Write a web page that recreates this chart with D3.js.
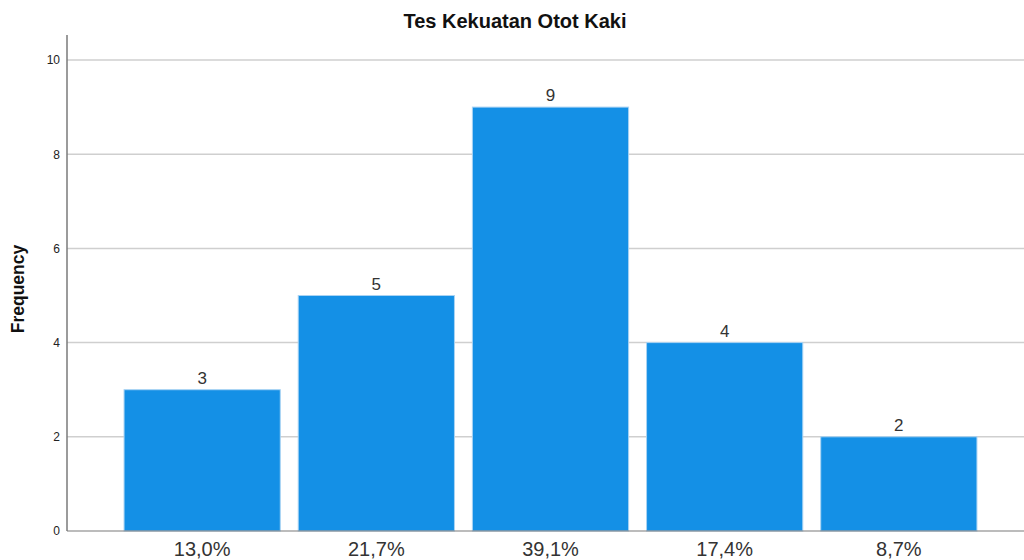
<!DOCTYPE html>
<meta charset="utf-8">
<style>
    body { margin: 0; background: #fff; font-family: Arial, "Liberation Sans", sans-serif; }
    .grid line { stroke: #cfcfcf; stroke-width: 1.5; }
    .axis path, .axis line { stroke: #7a7a7a; }
</style>
<body>
<script src="https://cdnjs.cloudflare.com/ajax/libs/d3/7.8.5/d3.min.js"></script>
<script>
    var categories = ["13,0%", "21,7%", "39,1%", "17,4%", "8,7%"];
    var frequencies = [3, 5, 9, 4, 2];
    var yTicks = [0, 2, 4, 6, 8, 10];

    var width = 1024, height = 560;
    var plotLeft = 67, plotBottom = 531, plotTop = 35;

    var svg = d3.select("body").append("svg")
        .attr("width", width)
        .attr("height", height);

    var y = d3.scaleLinear()
        .domain([0, 10])
        .range([plotBottom, 60]);

    var x = d3.scaleBand()
        .domain(categories)
        .range([115, 986])
        .paddingInner(0.103)
        .paddingOuter(0.052);

    // gridlines
    svg.append("g")
        .attr("class", "grid")
        .selectAll("line")
        .data(yTicks.slice(1))
        .enter().append("line")
        .attr("x1", plotLeft)
        .attr("x2", width)
        .attr("y1", function(d) { return y(d); })
        .attr("y2", function(d) { return y(d); });

    // bars
    var bar = svg.append("g").selectAll("g")
        .data(frequencies)
        .enter().append("g");

    bar.append("rect")
        .attr("x", function(d, i) { return x(categories[i]); })
        .attr("y", function(d) { return y(d); })
        .attr("width", x.bandwidth())
        .attr("height", function(d) { return plotBottom - y(d); })
        .attr("fill", "#1490e6")
        .attr("stroke", "#a9d3f3")
        .attr("stroke-width", 1);

    bar.append("text")
        .attr("x", function(d, i) { return x(categories[i]) + x.bandwidth() / 2; })
        .attr("y", function(d) { return y(d) - 6; })
        .attr("text-anchor", "middle")
        .style("font-size", "17px")
        .style("fill", "#333")
        .text(function(d) { return d; });

    // y axis
    var yAxis = d3.axisLeft(y).tickValues(yTicks).tickSize(0).tickPadding(7);
    var gy = svg.append("g")
        .attr("class", "axis")
        .attr("transform", "translate(" + plotLeft + ",0)")
        .call(yAxis);
    gy.select(".domain").remove();
    gy.selectAll("text").style("font-size", "12px").style("fill", "#222");
    gy.append("line")
        .attr("y1", plotTop)
        .attr("y2", plotBottom)
        .attr("stroke", "#7a7a7a")
        .attr("stroke-width", 1.5);

    // x axis
    var xAxis = d3.axisBottom(x).tickSize(0).tickPadding(11);
    var gx = svg.append("g")
        .attr("class", "axis")
        .attr("transform", "translate(0," + plotBottom + ")")
        .call(xAxis);
    gx.select(".domain").remove();
    gx.selectAll("text").style("font-size", "20px").style("fill", "#333");
    gx.append("line")
        .attr("x1", plotLeft)
        .attr("x2", width)
        .attr("stroke", "#555")
        .attr("stroke-width", 1.2);

    // title
    svg.append("text")
        .attr("x", 515)
        .attr("y", 28)
        .attr("text-anchor", "middle")
        .style("font-size", "20px")
        .style("font-weight", "bold")
        .style("fill", "#111")
        .text("Tes Kekuatan Otot Kaki");

    // y label
    svg.append("text")
        .attr("transform", "translate(24,289) rotate(-90)")
        .attr("text-anchor", "middle")
        .style("font-size", "17.5px")
        .style("font-weight", "bold")
        .style("fill", "#111")
        .text("Frequency");
</script>
